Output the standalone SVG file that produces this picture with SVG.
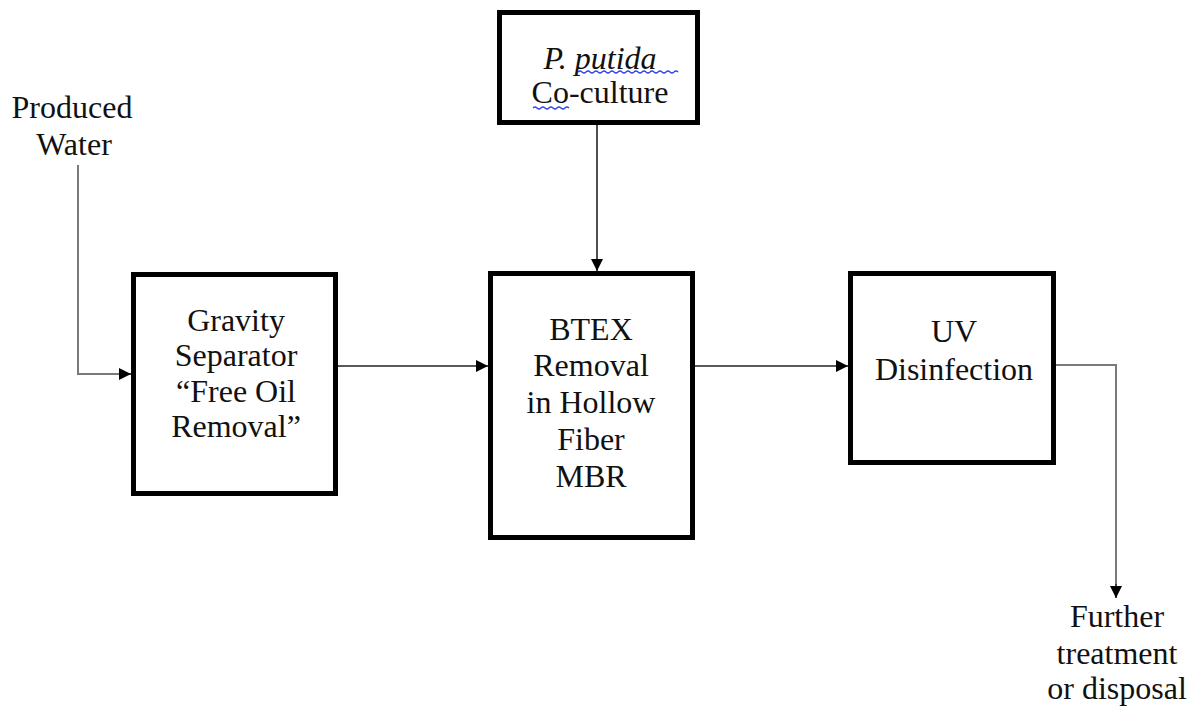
<svg xmlns="http://www.w3.org/2000/svg" width="1194" height="706" viewBox="0 0 1194 706">
<style>
.box{fill:#fff;stroke:#000;stroke-width:5}
.t{font-family:'Liberation Serif','Times New Roman',serif;font-size:32px;fill:#111;text-anchor:middle}
.c{fill:none;stroke:#222;stroke-width:1.6}
.g{fill:none;stroke:#7a7a7a;stroke-width:2}
.sq{fill:none;stroke:#3344ee;stroke-width:1.2}
</style>
<defs>
<marker id="ahb" viewBox="0 0 10 10" refX="10" refY="5" markerWidth="12" markerHeight="12" markerUnits="userSpaceOnUse" orient="auto">
<path d="M0,0 L10,5 L0,10 z" fill="#000"/>
</marker>
</defs>
<rect width="1194" height="706" fill="#fff"/>
<g id="connectors">
<path class="g" d="M78,165 V374 H120"/>
<path class="c" d="M120,374 H131" marker-end="url(#ahb)"/>
<path class="c" d="M338,366 H488" marker-end="url(#ahb)"/>
<path class="c" d="M597,124 V271" marker-end="url(#ahb)"/>
<path class="c" d="M695,366 H848" marker-end="url(#ahb)"/>
<path class="g" d="M1056,365 H1116 V585"/>
<path class="c" d="M1116,584 V598" marker-end="url(#ahb)"/>
</g>
<g id="produced-water">
<text class="t" x="72" y="118">Produced</text>
<text class="t" x="74" y="155">Water</text>
</g>
<g id="p-putida">
<rect class="box" x="499.5" y="12.5" width="198" height="110"/>
<text class="t" x="600" y="69"><tspan font-style="italic">P. putida</tspan></text>
<text class="t" x="600" y="103">Co-culture</text>
<path class="sq" d="M578,72 q2,-2 4,0 t4,0 t4,0 t4,0 t4,0 t4,0 t4,0 t4,0 t4,0 t4,0 t4,0 t4,0 t4,0 t4,0 t4,0 t4,0 t4,0 t4,0 t4,0 t4,0 t4,0 t4,0 t4,0 t4,0 t4,0"/>
<path class="sq" d="M533,108 q2,-2 4,0 t4,0 t4,0 t4,0 t4,0 t4,0 t4,0 t4,0 t4,0"/>
</g>
<g id="gravity-separator">
<rect class="box" x="133.5" y="274.5" width="202" height="219"/>
<text class="t" x="236" y="331">Gravity</text>
<text class="t" x="236" y="366">Separator</text>
<text class="t" x="236" y="402">“Free Oil</text>
<text class="t" x="236" y="437">Removal”</text>
</g>
<g id="btex-mbr">
<rect class="box" x="490.5" y="273.5" width="202" height="264"/>
<text class="t" x="591" y="340">BTEX</text>
<text class="t" x="591" y="376">Removal</text>
<text class="t" x="591" y="413">in Hollow</text>
<text class="t" x="591" y="450">Fiber</text>
<text class="t" x="591" y="487">MBR</text>
</g>
<g id="uv-disinfection">
<rect class="box" x="850.5" y="273.5" width="203" height="189"/>
<text class="t" x="954" y="342">UV</text>
<text class="t" x="954" y="380">Disinfection</text>
</g>
<g id="further-treatment">
<text class="t" x="1117" y="627">Further</text>
<text class="t" x="1117" y="664">treatment</text>
<text class="t" x="1117" y="699">or disposal</text>
</g>
</svg>
